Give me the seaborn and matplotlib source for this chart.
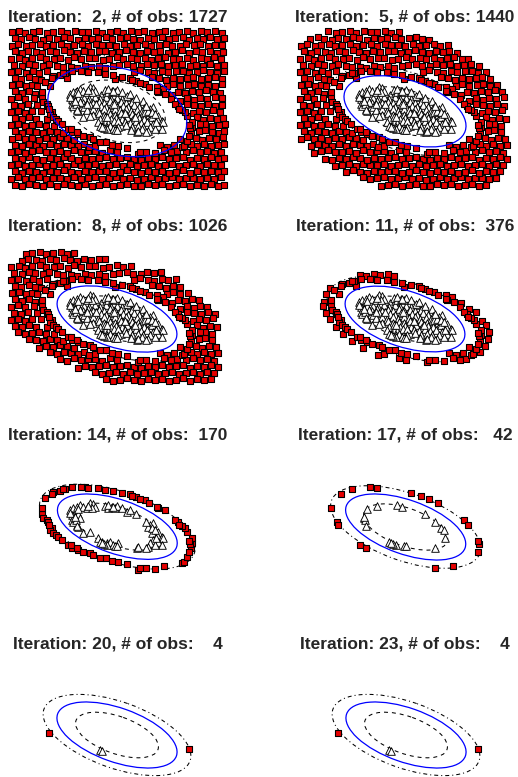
import matplotlib
matplotlib.use("Agg")
import matplotlib.pyplot as plt
from matplotlib.patches import Ellipse
import seaborn as sns
import pandas as pd

sns.set_style("white")
plt.rcParams["font.family"] = ["Liberation Sans", "DejaVu Sans"]

# ---------------- data ----------------
iterations = [2, 5, 8, 11, 14, 17, 20, 23]
n_obs = [1727, 1440, 1026, 376, 170, 42, 4, 4]

# background observations (squares), grouped by the last panel they appear in
sq_l1 = [(36,97),(57,93),(75,99),(98,95),(351,92),(368,98),(392,94),(413,97),(431,93),(455,99),(476,95),(494,92),(519,98),(537,96),(561,93),(579,99),(603,94),(620,97),(645,92),(666,98),
         (45,114),(443,113),(463,116),(485,112),(506,118),(525,115),(548,111),(568,119),(590,114),(609,117),(631,112),(652,118),(671,115),
         (497,132),(517,137),(540,139),(559,133),(582,136),(600,131),(623,138),(644,134),(665,136),
         (524,155),(545,151),(566,159),(587,154),(607,157),(630,152),(650,158),(670,155),
         (560,173),(580,179),(602,174),(621,177),(643,172),(664,178),
         (589,194),(610,197),(631,192),(651,198),(671,195),
         (610,211),(631,217),(652,219),(672,213),(623,235),(645,231),(666,237),(645,259),(667,252),
         (660,279),(665,295),(666,315),(660,336),(670,355),(656,375),(674,371),(656,399),(673,393),(670,412),
         (44,434),(673,431),(34,456),(55,452),(664,456),(44,474),(65,478),(86,472),(673,475),
         (34,496),(55,492),(76,498),(97,494),(118,491),(664,494),
         (44,514),(65,518),(86,512),(107,516),(128,519),(149,513),(653,517),(673,512),
         (34,536),(55,532),(76,538),(97,534),(118,531),(139,537),(160,535),(181,533),(202,538),(643,536),(664,532),
         (44,554),(65,558),(86,552),(107,556),(128,559),(149,553),(170,557),(191,551),(212,555),(233,559),(254,553),(611,557),(632,552),(653,558),(673,555)]
sq_l2 = [(117,92),(140,98),(159,96),(183,94),(201,99),(224,92),(246,97),(263,95),(288,93),(306,99),(330,96),
         (64,118),(87,112),(106,116),(128,119),(148,113),(170,117),(191,111),(210,115),(233,119),(254,113),(275,117),(294,114),(317,112),(337,118),(360,115),(380,111),(400,117),(421,119),
         (35,137),(55,133),(245,133),(264,138),(287,131),(305,136),(328,134),(349,139),(371,132),(390,137),(412,134),(434,131),(453,138),(476,135),
         (44,154),(335,158),(358,155),(377,151),(399,157),(419,159),(440,153),(462,156),(481,152),(504,158),
         (411,177),(434,173),(454,179),(475,175),(496,172),(518,178),(538,176),
         (505,198),(526,195),(547,191),(569,199),(548,212),(567,218),(590,215),(561,234),(580,232),(602,238),
         (582,251),(604,257),(625,254),(617,271),(638,275),(644,291),
         (34,376),(44,394),(65,398),(36,416),(55,412),(76,418),(97,414),(65,438),(86,432),(107,436),(128,439),
         (76,458),(97,454),(118,451),(139,457),(160,455),(107,476),(128,479),(149,473),(170,477),(191,471),(212,475),
         (139,497),(160,495),(181,493),(202,498),(223,491),(244,496),(265,494),
         (170,517),(191,511),(212,515),(233,519),(254,513),(275,517),(296,514),
         (223,531),(244,536),(265,534),(286,532),(307,538),(328,535),(349,531),(601,538),(622,533),
         (370,537),(391,533),(412,539),(433,536),(454,532),(475,538),(496,534),(517,531),(538,537),(559,535),(580,533),
         (275,557),(296,554),(317,552),(338,558),(359,555),(380,551),(401,557),(422,559),(443,553),(464,556),(485,552),(506,558),(527,555),(548,551),(569,559),(590,554)]
sq_l3 = [(77,139),(96,134),(119,131),(139,138),(160,135),(182,132),(200,139),(222,136),
         (66,158),(85,152),(108,156),(127,159),(150,153),(169,157),(192,151),(211,155),(231,159),(253,153),(272,157),(296,154),(315,152),
         (34,177),(56,173),(76,179),(97,175),(120,172),(138,178),(161,176),(181,174),(203,179),(223,172),(244,177),(266,175),(285,173),(308,179),(327,176),(350,172),(369,178),(392,174),
         (43,194),(65,198),(86,192),(106,196),(129,199),(148,193),(171,197),(190,201),(338,198),(357,195),(380,191),(400,197),(422,199),(441,193),(463,196),(484,192),
         (34,216),(55,212),(77,218),(98,214),(118,219),(140,213),(401,217),(421,211),(444,215),(463,219),(486,213),(505,217),(527,214),
         (44,234),(64,238),(86,232),(105,236),(455,231),(477,235),(497,239),(519,233),(539,237),
         (35,256),(56,252),(77,258),(96,254),(500,257),(520,253),(541,259),(563,255),
         (45,274),(66,278),(87,272),(533,276),(555,279),(575,273),(597,277),
         (34,296),(55,292),(76,298),(560,294),(581,299),(601,293),(622,297),
         (43,314),(64,318),(85,312),(581,316),(602,319),(623,313),(645,317),
         (34,336),(55,332),(76,338),(97,334),(597,333),(618,337),(639,331),
         (44,354),(65,358),(86,352),(107,356),(608,359),(629,353),(650,357),
         (55,372),(76,378),(97,374),(118,371),(139,377),(614,373),(635,379),
         (86,392),(107,396),(128,399),(149,393),(170,397),(614,391),(635,395),
         (118,419),(139,413),(160,417),(181,411),(202,415),(607,419),(628,413),(649,417),
         (149,433),(170,437),(191,431),(212,435),(233,439),(252,433),(591,437),(612,432),(633,438),(654,435),
         (181,453),(202,458),(223,451),(244,456),(265,454),(286,452),(307,458),(559,455),(580,451),(601,457),(622,453),(643,459),
         (233,479),(254,473),(275,477),(296,474),(317,472),(338,478),(359,475),(380,471),(401,477),(422,479),(443,473),(464,476),(485,472),(506,478),(527,475),(548,471),(569,479),(590,474),(611,477),(632,472),(653,478),
         (286,492),(307,498),(328,495),(349,491),(370,497),(391,493),(412,499),(433,496),(454,492),(475,498),(496,494),(517,491),(538,497),(559,495),(580,493),(601,498),(622,491),(643,496),
         (317,512),(338,518),(359,515),(380,511),(401,517),(422,519),(443,513),(464,516),(485,512),(506,518),(527,515),(548,511),(569,519),(590,514),(611,517),(632,512)]
sq_l4 = [(212,200),(232,203),(254,198),(274,202),(296,199),(316,203),(124,239),(202,233),(344,237),
         (112,257),(151,259),(470,262),(489,266),(106,281),(516,286),(103,294),(512,298),(540,302),
         (112,316),(561,313),(124,334),(580,339),(141,356),(591,352),(163,378),(599,373),(189,398),(596,392),
         (222,420),(541,418),(589,414),(266,440),(284,437),(480,436),(501,440),(523,434),(573,431),
         (331,451),(352,457),(512,457),(532,452)]
sq_l5 = [(135,247),(125,295),(128,307),(140,312),(155,337),(150,342),(160,352),(168,357),(175,362),(185,372),
         (205,387),(215,397),(235,402),(250,409),(270,412),(280,417),(300,425),(318,427),(335,435),(355,439),
         (380,445),(415,462),(420,455),(465,460),(545,442),(552,437),(560,422),(574,397),(577,382),(575,367),
         (560,347),(555,337),(545,329),(535,317),(495,282),(475,277),(470,272),(435,252),(408,242),(390,235),
         (340,224),(315,222),(295,217),(255,212),(215,214),(195,219),(180,224),(160,227)]
sq_l6 = [(127,277),(155,234),(188,220),(242,214),(264,215),(367,230),(396,241),(419,250),(447,260),
         (525,311),(538,327),(569,383),(567,409),(144,319),(214,387),(231,395),(439,455),(493,450)]
sq_l7 = [(148,328),(568,376)]

# cluster observations (triangles), grouped the same way
tri_l4 = [(302,284),(338,286),(360,288),(318,280),
          (252,293),(268,297),(285,291),(301,296),(318,292),(334,297),(351,293),(367,298),(384,292),(398,299),
          (248,308),(263,304),(280,309),(297,305),(313,310),(330,304),(346,308),(362,305),(379,310),(395,306),(412,309),(428,304),
          (253,320),(270,316),(286,321),(303,317),(319,322),(336,316),(352,320),(369,317),(385,321),(402,316),(418,320),(432,323),
          (262,331),(279,327),(295,333),(312,328),(328,332),(345,327),(361,331),(378,328),(394,333),(411,329),(427,332),
          (280,344),(297,340),(313,345),(330,341),(346,344),(363,339),(380,345),(396,341),(413,344),(429,340),(446,345),
          (300,356),(316,352),(333,357),(349,353),(366,356),(382,351),(399,357),(416,353),(432,356),(448,360),
          (325,368),(341,364),(358,369),(375,365),(391,368),(408,364),(424,369),(441,366),
          (362,379),(379,376),(396,380),(413,377),(430,381),(392,389),(425,388),
          (288,313),(341,312),(374,338),(322,350),(405,350),(355,362),(262,311),(436,336)]
tri_l5 = [(210,282),(220,277),(230,272),(240,267),(250,272),(260,275),(270,262),(280,265),(285,272),(275,277),
          (215,297),(225,302),(235,295),(215,312),(240,307),(210,292),(315,269),(325,277),(335,272),(345,275),
          (352,269),(365,277),(380,287),(390,282),(450,327),(460,322),(445,332),(475,347),(455,352),(470,357),
          (485,362),(490,367),(460,372),(475,377),(450,382),(445,392),(485,387),(465,387),(250,352),(270,349),
          (295,367),(305,377),(320,382),(330,377),(340,387),(355,382),(410,395),(415,392),(230,327),(235,332),(220,317)]
tri_l6 = [(235,280),(265,269),(324,267),(339,272),(409,295),(224,307),(228,312),(232,329),(439,317),
          (457,337),(465,342),(469,365),(322,387),(345,391),(352,391),(437,395),(226,303),(313,385)]
tri_l7 = [(300,378),(307,382)]

# fitted ellipses per panel (centre, semi-axes of the solid one, angle, scale of dashed / dash-dot)
ell_cx = [352, 348, 351, 348, 352, 350, 351, 351]
ell_cy = [334, 334, 333, 333, 332, 333, 333, 333]
ell_a = [213, 190, 187, 187, 188, 189, 189, 189]
ell_b = [129, 94, 85, 84, 81, 81, 81, 81]
ell_angle = [15, 18, 18, 18, 19, 19.5, 19.5, 19.5]
inner_scale = [0.69, 0.69, 0.70, 0.70, 0.72, 0.70, 0.69, 0.69]
outer_scale = [1.23, 1.25, 1.28, 1.30, 1.30, 1.25, 1.23, 1.23]

square_levels = [sq_l1, sq_l2, sq_l3, sq_l4, sq_l5, sq_l6, sq_l7]
triangle_levels = [[], [], [], tri_l4, tri_l5, tri_l6, tri_l7]
min_level = [1, 2, 3, 4, 5, 6, 7, 7]

# ---------------- figure ----------------
W, H = 518, 777
fig = plt.figure(figsize=(W / 100, H / 100), dpi=100)

for p in range(8):
    r, c = divmod(p, 2)
    ax = fig.add_axes([289 * c / W, 1 - (208 * r + 200) / H, 230 / W, 200 / H])
    sq = [pt for lv in range(min_level[p], 8) for pt in square_levels[lv - 1]]
    tr = [pt for lv in range(min_level[p], 8) for pt in triangle_levels[lv - 1]]
    df_sq = pd.DataFrame(sq, columns=["x", "y"])
    df_tr = pd.DataFrame(tr, columns=["x", "y"])

    for sc, ls in ((inner_scale[p], (0, (3.8, 3.8))), (outer_scale[p], (0, (1, 2.9, 3.8, 2.9)))):
        ax.add_patch(Ellipse((ell_cx[p], ell_cy[p]), 2 * ell_a[p] * sc, 2 * ell_b[p] * sc,
                             angle=ell_angle[p], fill=False, ec="black", lw=0.75, ls=ls, zorder=1))

    sns.scatterplot(data=df_sq, x="x", y="y", marker="s", s=17, color="#e60000",
                    edgecolor="black", linewidth=0.8, ax=ax, zorder=2, legend=False)
    sns.scatterplot(data=df_tr, x="x", y="y", marker="^", s=30, color="white",
                    edgecolor="black", linewidth=0.65, ax=ax, zorder=3, legend=False)

    ax.add_patch(Ellipse((ell_cx[p], ell_cy[p]), 2 * ell_a[p], 2 * ell_b[p],
                         angle=ell_angle[p], fill=False, ec="#0000ff", lw=0.9, zorder=4))

    ax.set_xlim(0, 690)
    ax.set_ylim(600, 0)
    ax.set_axis_off()

    title = f"Iteration: {iterations[p]:2d}, # of obs: {n_obs[p]:4d}"
    fig.text((118 + 287 * c) / W, 1 - (17 + 209 * r) / H, title, ha="center", va="center",
             fontsize=12.5, fontweight="bold")

fig.savefig("out.png", dpi=100)
